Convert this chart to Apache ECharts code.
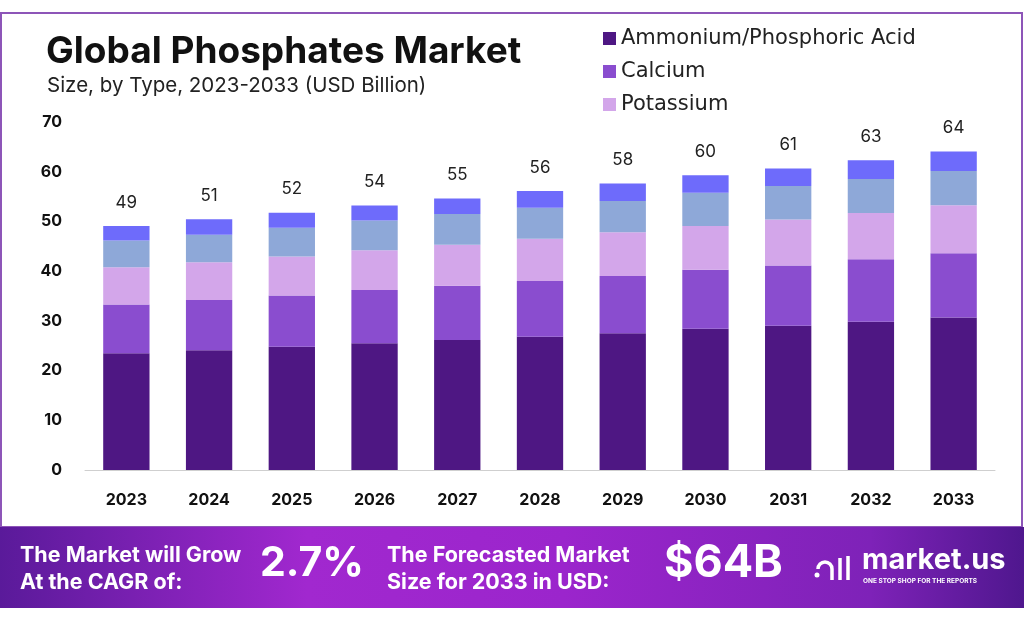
<!DOCTYPE html>
<html><head><meta charset="utf-8">
<script src="https://cdn.jsdelivr.net/npm/echarts@6/dist/echarts.min.js"></script>
<style>html,body{margin:0;padding:0;background:#fff}#c{width:1024px;height:623px}</style>
</head><body><div id="c"></div>
<script>
const years = ['2023','2024','2025','2026','2027','2028','2029','2030','2031','2032','2033'];
const ammonium = [23.5,24.1,24.8,25.5,26.15,26.8,27.5,28.4,29.0,29.8,30.7];
const calcium = [9.8,10.1,10.3,10.7,10.9,11.2,11.5,11.9,12.15,12.6,12.9];
const potassium = [7.5,7.6,7.85,8.0,8.25,8.5,8.8,8.8,9.25,9.3,9.65];
const segment4 = [5.35,5.5,5.8,6.0,6.2,6.25,6.3,6.65,6.75,6.85,6.9];
const segment5 = [2.95,3.15,3.0,3.0,3.1,3.35,3.55,3.55,3.5,3.75,3.9];
const totals = [49,51,52,54,55,56,58,60,61,63,64];
const yTicks = [0,10,20,30,40,50,60,70];

const colors = ['#4e1783','#8a4dcf','#d3a6ea','#8ea8d8','#6e6bfb'];
const font = 'Inter, "Noto Sans", sans-serif';
const wide = '"DejaVu Sans", Inter, sans-serif';
const chart = echarts.init(document.getElementById('c'), null, {renderer:'canvas'});

function mk(name, data, i, extra) {
  return Object.assign({
    name: name, type: 'bar', stack: 'total', data: data, barWidth: '56%',
    itemStyle: {color: colors[i]}, emphasis: {disabled: true}
  }, extra || {});
}
const shadow = {shadowColor:'rgba(0,0,0,0.35)', shadowBlur:4, shadowOffsetX:2, shadowOffsetY:2};

chart.setOption({
  animation: false,
  grid: {left: 85, right: 29, top: 122, bottom: 153, containLabel: false},
  legend: {
    data: ['Ammonium/Phosphoric Acid','Calcium','Potassium'],
    orient: 'vertical', left: 598, top: 23, itemGap: 12,
    itemWidth: 13, itemHeight: 13, icon: 'rect',
    textStyle: {fontFamily: wide, fontSize: 21, color: '#222'},
    selectedMode: false
  },
  xAxis: {
    type: 'category', data: years,
    axisLine: {lineStyle: {color: '#cfcfcf'}}, axisTick: {show: false},
    axisLabel: {fontFamily: font, fontWeight: 'bold', fontSize: 16, color: '#111', margin: 22}
  },
  yAxis: {
    type: 'value', min: 0, max: 70, interval: 10,
    splitLine: {show: false}, axisLine: {show: false}, axisTick: {show: false},
    axisLabel: {fontFamily: font, fontWeight: 'bold', fontSize: 16, color: '#111', margin: 23,
      formatter: v => yTicks.includes(v) ? String(v) : ''}
  },
  series: [
    mk('Ammonium/Phosphoric Acid', ammonium, 0),
    mk('Calcium', calcium, 1),
    mk('Potassium', potassium, 2),
    mk('Segment 4', segment4, 3),
    mk('Segment 5', segment5, 4, {label: {show: true, position: 'top', distance: 15,
      fontFamily: font, fontSize: 17, color: '#222', formatter: p => String(totals[p.dataIndex])}})
  ],
  graphic: {elements: [
    {type:'rect', z:-1, shape:{x:1, y:13, width:1021, height:514}, style:{fill:'none', stroke:'#8d55b8', lineWidth:2}},
    {type:'text', x:46, y:33, style:{text:'Global Phosphates Market', font:'bold 37px '+font, fill:'#111'}},
    {type:'text', x:47, y:75, style:{text:'Size, by Type, 2023-2033 (USD Billion)', font:'20.5px '+font, fill:'#222'}},
    {type:'rect', shape:{x:0, y:527, width:1024, height:81}, style:{fill:new echarts.graphic.LinearGradient(0,0,1,0,[
      {offset:0,color:'#5a1a9a'},{offset:0.3,color:'#a128cf'},{offset:0.55,color:'#9b25cc'},{offset:0.85,color:'#7e22b8'},{offset:1,color:'#4f178e'}])}},
    {type:'text', x:20, y:542, style:{text:'The Market will Grow\nAt the CAGR of:', font:'bold 21.5px '+font, fill:'#fff', lineHeight:27}},
    {type:'text', x:260, y:543, style:Object.assign({text:'2.7%', font:'bold 41px '+font, fill:'#fff'}, shadow)},
    {type:'text', x:387, y:542, style:{text:'The Forecasted Market\nSize for 2033 in USD:', font:'bold 21.5px '+font, fill:'#fff', lineHeight:27}},
    {type:'text', x:664, y:541, style:Object.assign({text:'$64B', font:'bold 45px '+font, fill:'#fff'}, shadow)},
    {type:'circle', shape:{cx:817, cy:575, r:2.5}, style:{fill:'#fff'}},
    {type:'arc', shape:{cx:825, cy:569, r:7, startAngle:Math.PI, endAngle:0, clockwise:true}, style:{fill:'none', stroke:'#fff', lineWidth:3.5}},
    {type:'line', shape:{x1:832, y1:569, x2:832, y2:580}, style:{stroke:'#fff', lineWidth:3.5}},
    {type:'line', shape:{x1:840, y1:558, x2:840, y2:580}, style:{stroke:'#fff', lineWidth:3.5}},
    {type:'line', shape:{x1:848, y1:556, x2:848, y2:580}, style:{stroke:'#fff', lineWidth:3.5}},
    {type:'text', x:862, y:546, style:{text:'market.us', font:'bold 29px '+font, fill:'#fff'}},
    {type:'text', x:863, y:578, style:{text:'ONE STOP SHOP FOR THE REPORTS', font:'bold 6.5px '+font, fill:'#fff'}}
  ]}
});
</script></body></html>
